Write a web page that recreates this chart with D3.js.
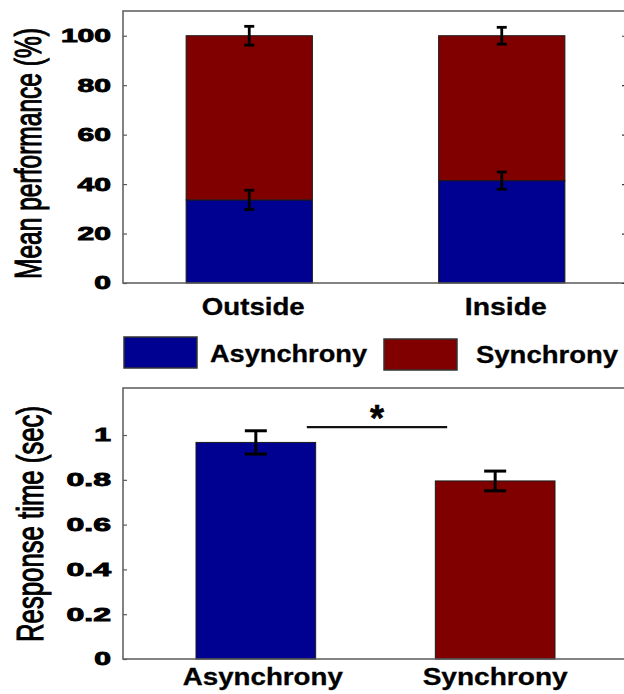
<!DOCTYPE html>
<html>
<head>
<meta charset="utf-8">
<script src="https://cdn.jsdelivr.net/npm/d3@7"></script>
<style>
  html, body { margin: 0; padding: 0; background: #fff; }
  svg { display: block; font-family: "Liberation Sans", Arial, Helvetica, sans-serif; }
</style>
</head>
<body>
<svg id="chart" width="624" height="694"></svg>
<script>
// ---------- data ----------
const perfCategories = ["Outside", "Inside"];
const asyncPerf = [33.6, 41.4];
const asyncPerfErr = [3.9, 3.5];
const syncPerf = [66.4, 58.6];
const totalPerfErr = [3.8, 3.4];
const perfTicks = [0, 20, 40, 60, 80, 100];

const rtCategories = ["Asynchrony", "Synchrony"];
const rtValues = [0.967, 0.795];
const rtErr = [0.052, 0.044];
const rtTicks = [0, 0.2, 0.4, 0.6, 0.8, 1];

const seriesNames = ["Asynchrony", "Synchrony"];
const seriesColors = ["#000091", "#800000"];

(function () {
// ---------- setup ----------
const svg = d3.select("#chart");
const frameColor = "#5a5a5a";
const tickLen = (s) => s.replace(/\./g, "").length * 16.7 + (s.match(/\./g) || []).length * 11;

function styleTicks(g) {
  g.select(".domain").remove();
  g.selectAll(".tick line").attr("stroke", frameColor).attr("stroke-width", 1.2);
  g.selectAll(".tick text")
    .attr("font-size", 18.6)
    .attr("font-weight", "bold")
    .attr("fill", "#000")
    .attr("stroke", "#000").attr("stroke-width", 0.9)
    .attr("font-family", "'Liberation Sans', Arial, sans-serif")
    .attr("lengthAdjust", "spacingAndGlyphs")
    .attr("textLength", function() { return tickLen(d3.select(this).text()); });
}

// ---------- top panel: stacked performance ----------
const topBox = { left: 123, right: 628, top: 11, bottom: 283 };
const xTop = d3.scaleBand().domain(perfCategories).range([topBox.left, topBox.right])
  .paddingInner(0.5).paddingOuter(0.25);
const yTop = d3.scaleLinear().domain([0, 110]).range([topBox.bottom, topBox.top]);

const stackRows = perfCategories.map((c, i) => ({ cat: c, Asynchrony: asyncPerf[i], Synchrony: syncPerf[i] }));
const stacked = d3.stack().keys(seriesNames)(stackRows);

const gTop = svg.append("g");
stacked.forEach((layer, li) => {
  gTop.selectAll(null).data(layer).enter().append("rect")
    .attr("x", d => xTop(d.data.cat))
    .attr("width", xTop.bandwidth())
    .attr("y", d => yTop(d[1]))
    .attr("height", d => yTop(d[0]) - yTop(d[1]))
    .attr("fill", seriesColors[li])
    .attr("stroke", "#1a1a1a")
    .attr("stroke-width", 1);
});

// error bars
function errBar(g, cx, yScale, v, e, capW, sw) {
  g.append("line").attr("x1", cx).attr("x2", cx)
    .attr("y1", yScale(v + e)).attr("y2", yScale(v - e))
    .attr("stroke", "#000").attr("stroke-width", sw);
  [v + e, v - e].forEach(t => {
    g.append("line").attr("x1", cx - capW / 2).attr("x2", cx + capW / 2)
      .attr("y1", yScale(t)).attr("y2", yScale(t))
      .attr("stroke", "#000").attr("stroke-width", sw);
  });
}
perfCategories.forEach((c, i) => {
  const cx = xTop(c) + xTop.bandwidth() / 2;
  errBar(gTop, cx, yTop, asyncPerf[i], asyncPerfErr[i], 10, 2.8);
  errBar(gTop, cx, yTop, asyncPerf[i] + syncPerf[i], totalPerfErr[i], 10, 2.8);
});

// frame
gTop.append("rect").attr("x", topBox.left).attr("y", topBox.top)
  .attr("width", topBox.right - topBox.left).attr("height", topBox.bottom - topBox.top)
  .attr("fill", "none").attr("stroke", frameColor).attr("stroke-width", 1.5);

gTop.append("g").attr("transform", `translate(${topBox.left},0)`)
  .call(d3.axisLeft(yTop).tickValues(perfTicks).tickSize(-4).tickPadding(12).tickFormat(d3.format("d")))
  .call(styleTicks);
gTop.append("g").attr("transform", `translate(${topBox.right},0)`)
  .call(d3.axisRight(yTop).tickValues(perfTicks).tickSize(-6).tickFormat(""))
  .call(g => { g.select(".domain").remove(); g.selectAll(".tick line").attr("stroke", "#333").attr("stroke-width", 1.2); });

// x labels top
const xLabTopLen = { Outside: 103, Inside: 82 };
perfCategories.forEach(c => {
  gTop.append("text")
    .attr("x", xTop(c) + xTop.bandwidth() / 2 + 4)
    .attr("y", 315)
    .attr("text-anchor", "middle")
    .attr("font-size", 23).attr("font-weight", "bold")
    .attr("stroke", "#000").attr("stroke-width", 0.3)
    .attr("lengthAdjust", "spacingAndGlyphs").attr("textLength", xLabTopLen[c])
    .text(c);
});

// y label top
gTop.append("text")
  .attr("transform", `translate(41,${(27 + 280) / 2}) rotate(-90)`)
  .attr("text-anchor", "middle")
  .attr("font-size", 36)
  .attr("stroke", "#000").attr("stroke-width", 1.1)
  .attr("lengthAdjust", "spacingAndGlyphs").attr("textLength", 251)
  .text("Mean performance (%)");

// ---------- legend ----------
const legend = svg.append("g");
const legItems = [
  { name: seriesNames[0], color: seriesColors[0], bx: 124, by: 337, tx: 210, ty: 362, tl: 157 },
  { name: seriesNames[1], color: seriesColors[1], bx: 384, by: 339, tx: 476, ty: 363, tl: 142 }
];
legItems.forEach(d => {
  legend.append("rect").attr("x", d.bx).attr("y", d.by).attr("width", 73).attr("height", 31)
    .attr("fill", d.color).attr("stroke", "#333").attr("stroke-width", 1.5);
  legend.append("text").attr("x", d.tx).attr("y", d.ty)
    .attr("font-size", 23).attr("font-weight", "bold")
    .attr("stroke", "#000").attr("stroke-width", 0.3)
    .attr("lengthAdjust", "spacingAndGlyphs").attr("textLength", d.tl)
    .text(d.name);
});

// ---------- bottom panel: response time ----------
const bot = { left: 123, right: 628, top: 388, bottom: 659 };
const xBot = d3.scaleBand().domain(rtCategories).range([bot.left, bot.right])
  .paddingInner(0.5).paddingOuter(0.305);
const yBot = d3.scaleLinear().domain([0, 1.21]).range([bot.bottom, bot.top]);

const gBot = svg.append("g");
gBot.selectAll(null).data(rtCategories).enter().append("rect")
  .attr("x", d => xBot(d))
  .attr("width", xBot.bandwidth())
  .attr("y", (d, i) => yBot(rtValues[i]))
  .attr("height", (d, i) => yBot(0) - yBot(rtValues[i]))
  .attr("fill", (d, i) => seriesColors[i])
  .attr("stroke", "#1a1a1a").attr("stroke-width", 1);

rtCategories.forEach((c, i) => {
  const cx = xBot(c) + xBot.bandwidth() / 2;
  errBar(gBot, cx, yBot, rtValues[i], rtErr[i], 22, 3);
});

// significance marker
const sigY = yBot(1.035);
const cx0 = xBot(rtCategories[0]) + xBot.bandwidth() / 2;
const cx1 = xBot(rtCategories[1]) + xBot.bandwidth() / 2;
gBot.append("line").attr("x1", cx0 + 51).attr("x2", cx1 - 48)
  .attr("y1", sigY).attr("y2", sigY).attr("stroke", "#111").attr("stroke-width", 2.2);
gBot.append("text").attr("x", (cx0 + 51 + cx1 - 48) / 2).attr("y", sigY + 4)
  .attr("text-anchor", "middle").attr("font-size", 36).attr("font-weight", "bold")
  .attr("stroke", "#000").attr("stroke-width", 0.6)
  .text("*");

gBot.append("rect").attr("x", bot.left).attr("y", bot.top)
  .attr("width", bot.right - bot.left).attr("height", bot.bottom - bot.top)
  .attr("fill", "none").attr("stroke", frameColor).attr("stroke-width", 1.5);

gBot.append("g").attr("transform", `translate(${bot.left},0)`)
  .call(d3.axisLeft(yBot).tickValues(rtTicks).tickSize(-4).tickPadding(12).tickFormat(d => d3.format("")(+d.toFixed(1))))
  .call(styleTicks);

const xLabBotLen = { Asynchrony: 160, Synchrony: 145 };
rtCategories.forEach(c => {
  gBot.append("text")
    .attr("x", xBot(c) + xBot.bandwidth() / 2 + (c === "Asynchrony" ? 7 : 0))
    .attr("y", 685)
    .attr("text-anchor", "middle")
    .attr("font-size", 23).attr("font-weight", "bold")
    .attr("stroke", "#000").attr("stroke-width", 0.3)
    .attr("lengthAdjust", "spacingAndGlyphs").attr("textLength", xLabBotLen[c])
    .text(c);
});

gBot.append("text")
  .attr("transform", `translate(43,${(405 + 643) / 2}) rotate(-90)`)
  .attr("text-anchor", "middle")
  .attr("font-size", 36)
  .attr("stroke", "#000").attr("stroke-width", 1.1)
  .attr("lengthAdjust", "spacingAndGlyphs").attr("textLength", 236)
  .text("Response time (sec)");
})();
</script>
</body>
</html>
